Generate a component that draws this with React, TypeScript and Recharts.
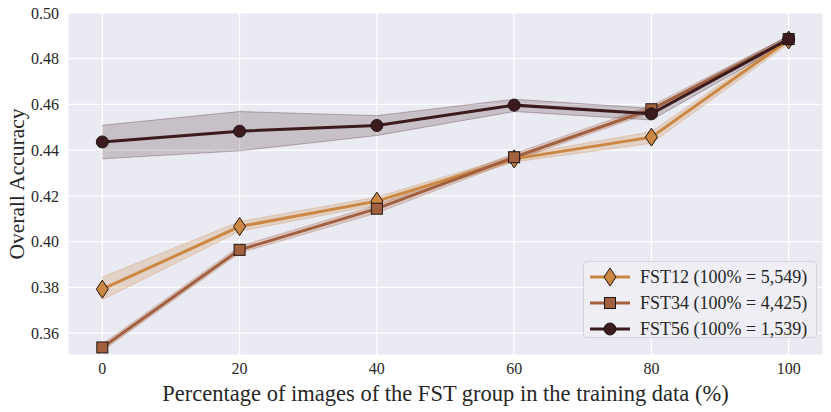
import { ComposedChart, Line, Area, XAxis, YAxis, CartesianGrid, Legend } from "recharts"

const xs = [0, 20, 40, 60, 80, 100]

const fst12 = [0.3792, 0.4066, 0.4177, 0.4362, 0.4457, 0.4882]
const fst12Lo = [0.3746, 0.4045, 0.416, 0.4348, 0.443, 0.4865]
const fst12Hi = [0.3845, 0.4088, 0.4195, 0.4376, 0.4481, 0.4895]

const fst34 = [0.3537, 0.3964, 0.4144, 0.4369, 0.4579, 0.4886]
const fst34Lo = [0.3522, 0.395, 0.4125, 0.4355, 0.4565, 0.4872]
const fst34Hi = [0.3552, 0.398, 0.416, 0.4385, 0.4595, 0.49]

const fst56 = [0.4436, 0.4483, 0.4508, 0.4597, 0.4559, 0.4886]
const fst56Lo = [0.4362, 0.4397, 0.4464, 0.4569, 0.4532, 0.4872]
const fst56Hi = [0.4509, 0.4569, 0.4551, 0.4623, 0.4583, 0.49]

const yTicks = [0.36, 0.38, 0.4, 0.42, 0.44, 0.46, 0.48, 0.5]

const legendLabels = ["FST12 (100% = 5,549)", "FST34 (100% = 4,425)", "FST56 (100% = 1,539)"]

const c12 = "#cc8742"
const c34 = "#a3603f"
const c56 = "#3b1b1d"
const edge = "#1e1414"
const font = "'Liberation Serif', serif"

const data = xs.map((x, i) => ({
  x,
  f12: fst12[i],
  f12band: [fst12Lo[i], fst12Hi[i]],
  f34: fst34[i],
  f34band: [fst34Lo[i], fst34Hi[i]],
  f56: fst56[i],
  f56band: [fst56Lo[i], fst56Hi[i]],
}))

const Diamond = ({ cx, cy, fill }: any) => (
  <polygon
    points={`${cx},${cy - 9} ${cx + 6},${cy} ${cx},${cy + 9} ${cx - 6},${cy}`}
    fill={fill}
    stroke={edge}
    strokeWidth={1}
  />
)

const Square = ({ cx, cy, fill }: any) => (
  <rect x={cx - 5.5} y={cy - 5.5} width={11} height={11} fill={fill} stroke={edge} strokeWidth={1} />
)

const Circle = ({ cx, cy, fill }: any) => <circle cx={cx} cy={cy} r={6} fill={fill} stroke={edge} strokeWidth={1} />

const markers = [
  { color: c12, Shape: Diamond },
  { color: c34, Shape: Square },
  { color: c56, Shape: Circle },
]

const LegendBox = () => (
  <div
    style={{
      position: "absolute",
      left: 583,
      top: 261,
      width: 234,
      height: 77,
      background: "#eeeef4",
      border: "1px solid #d4d4dc",
      borderRadius: 4,
      boxSizing: "border-box",
    }}
  >
    {legendLabels.map((label, i) => {
      const { color, Shape } = markers[i]
      return (
        <div key={label} style={{ position: "absolute", left: 4, top: 3 + i * 26, height: 24, display: "flex", alignItems: "center" }}>
          <svg width={44} height={24}>
            <line x1={2} y1={12} x2={42} y2={12} stroke={color} strokeWidth={3} />
            <Shape cx={22} cy={12} fill={color} />
          </svg>
          <span style={{ marginLeft: 8, fontFamily: font, fontSize: 18, color: "#262626", whiteSpace: "nowrap" }}>{label}</span>
        </div>
      )
    })}
  </div>
)

export default function App() {
  return (
    <div style={{ position: "absolute", left: 0, top: 0, width: 831, height: 412, background: "white", fontFamily: font }}>
      <ComposedChart width={831} height={412} data={data} margin={{ top: 13, right: 8, left: 0, bottom: 0 }}>
        <CartesianGrid stroke="#ffffff" strokeWidth={1.2} fill="#eaeaf2" />
        <XAxis
          dataKey="x"
          type="number"
          domain={[-5, 105]}
          ticks={xs}
          height={57}
          axisLine={false}
          tickLine={false}
          tickSize={0}
          tickMargin={8}
          tick={{ fontFamily: font, fontSize: 16, fill: "#262626" }}
          label={{
            value: "Percentage of images of the FST group in the training data (%)",
            position: "insideBottom",
            offset: 11,
            style: { fontFamily: font, fontSize: 22.5, fill: "#262626" },
          }}
        />
        <YAxis
          type="number"
          domain={[0.3504, 0.5]}
          ticks={yTicks}
          width={68}
          allowDataOverflow
          axisLine={false}
          tickLine={false}
          tickSize={0}
          tickMargin={9}
          tickFormatter={(v: number) => v.toFixed(2)}
          tick={{ fontFamily: font, fontSize: 16, fill: "#262626" }}
          label={{
            value: "Overall Accuracy",
            angle: -90,
            position: "insideLeft",
            offset: 16,
            style: { fontFamily: font, fontSize: 21.5, fill: "#262626", textAnchor: "middle" },
          }}
        />
        <Area dataKey="f12band" type="linear" fill={c12} fillOpacity={0.25} stroke={c12} strokeOpacity={0.3} isAnimationActive={false} />
        <Line dataKey="f12" type="linear" stroke={c12} strokeWidth={3} dot={<Diamond fill={c12} />} isAnimationActive={false} />
        <Area dataKey="f34band" type="linear" fill={c34} fillOpacity={0.25} stroke={c34} strokeOpacity={0.3} isAnimationActive={false} />
        <Line dataKey="f34" type="linear" stroke={c34} strokeWidth={3} dot={<Square fill={c34} />} isAnimationActive={false} />
        <Area dataKey="f56band" type="linear" fill={c56} fillOpacity={0.2} stroke={c56} strokeOpacity={0.3} isAnimationActive={false} />
        <Line dataKey="f56" type="linear" stroke={c56} strokeWidth={3} dot={<Circle fill={c56} />} isAnimationActive={false} />
        <Legend content={() => null} />
      </ComposedChart>
      <LegendBox />
    </div>
  )
}
